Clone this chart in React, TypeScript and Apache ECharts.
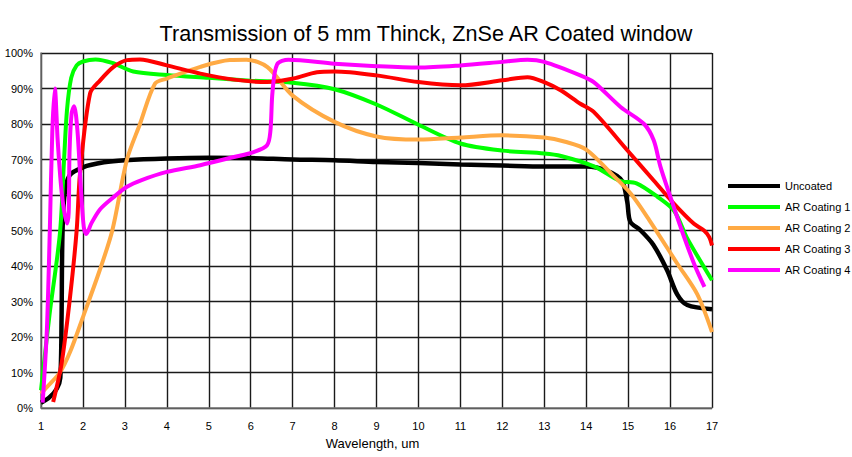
import React, { useEffect, useRef } from "react";
import * as echarts from "echarts";

// Wavelength (um) / transmission (%) pairs for each curve
const uncoated: [number, number][] = [
  [1.0, 1.5], [1.2, 3], [1.38, 5.5], [1.46, 8.5], [1.49, 25], [1.51, 48], [1.56, 60], [1.68, 65.5],
  [2, 67.8], [2.5, 69.2], [3, 69.8], [4, 70.3], [5, 70.5], [6, 70.4], [7, 70], [8, 69.8],
  [9, 69.3], [10, 69], [11, 68.6], [12, 68.3], [13, 68], [14, 68], [14.5, 66.8], [14.85, 64],
  [14.98, 58], [15.05, 52.5], [15.3, 50], [15.6, 46], [15.93, 38.8], [16.17, 32], [16.41, 29],
  [17, 27.8],
];
const arCoating1: [number, number][] = [
  [1.0, 5], [1.2, 26], [1.45, 49], [1.55, 70], [1.62, 84], [1.72, 93], [1.85, 96.5], [2, 97.6],
  [2.3, 98.2], [2.7, 97.2], [3.2, 94.8], [4, 93.8], [5, 93], [6, 92.2], [7, 91.6], [8, 89.8],
  [9, 85.5], [10, 79.8], [11, 74.5], [12, 72.5], [13, 71.7], [13.4, 71], [14.2, 68], [14.8, 64],
  [15.2, 63.3], [15.7, 59.5], [16.1, 55.5], [16.4, 48], [17, 36],
];
const arCoating2: [number, number][] = [
  [1.0, 4], [1.15, 6], [1.45, 10], [1.7, 16], [2, 25.6], [2.4, 38.8], [2.7, 50], [3.05, 70],
  [3.36, 80], [3.72, 91.4], [4, 92.8], [4.8, 96.1], [5.5, 98], [5.9, 98.1], [6.4, 96], [7, 88],
  [8, 80.6], [9, 76.5], [10, 75.6], [11, 76.2], [12, 76.8], [13, 76.2], [13.5, 75], [14, 72.8],
  [14.6, 66], [15.06, 60.4], [15.5, 53], [16.17, 40.7], [16.65, 32], [17, 21.4],
];
const arCoating3: [number, number][] = [
  [1.29, 1.7], [1.49, 12.5], [1.69, 31], [1.85, 50], [1.93, 66], [2.17, 88.6], [2.41, 92.3],
  [2.73, 96.1], [3.05, 98], [3.36, 98.2], [4, 96.5], [4.8, 94.2], [5.6, 92.5], [6.39, 91.8],
  [7.02, 92.8], [7.58, 94.6], [8, 94.8], [9, 93.7], [10, 91.8], [11, 90.9], [12, 92.3],
  [12.6, 93.2], [13, 91.8], [13.39, 89.5], [13.86, 85.7], [14.18, 83.4], [14.98, 72.6],
  [15.61, 64.1], [16.09, 57.6], [16.57, 51.9], [16.81, 50], [16.93, 48.2], [17, 45.8],
];
const arCoating4: [number, number][] = [
  [1.04, 1.5], [1.14, 22], [1.21, 50], [1.27, 78], [1.33, 90], [1.4, 75], [1.5, 60], [1.62, 52],
  [1.66, 55], [1.68, 72], [1.73, 83], [1.79, 85], [1.87, 78], [1.95, 62], [2.02, 51], [2.08, 49],
  [2.2, 52], [2.41, 56], [2.73, 59.4], [3.05, 62.3], [3.4, 64.2], [4, 66.5], [4.8, 68.4],
  [5.6, 70.7], [6.07, 72.1], [6.39, 74], [6.47, 78], [6.52, 89], [6.63, 96.8], [6.9, 98.1],
  [8, 97], [9, 96.3], [10, 95.9], [11, 96.5], [12, 97.5], [12.6, 98.1], [13, 97.5],
  [13.86, 93.7], [14.18, 91.8], [14.82, 84.8], [15.38, 80], [15.61, 75.4], [15.77, 68],
  [16.01, 59.4], [16.25, 51], [16.57, 40.7], [16.82, 34.1],
];

const seriesNames = ["Uncoated", "AR Coating 1", "AR Coating 2", "AR Coating 3", "AR Coating 4"];
const seriesData = [uncoated, arCoating1, arCoating2, arCoating3, arCoating4];
const seriesColors = ["#000000", "#00ff00", "#ffaa44", "#ff0000", "#ff00ff"];

const FONT = "'Liberation Sans', Arial, sans-serif";

export default function App() {
  const ref = useRef<HTMLDivElement>(null);

  useEffect(() => {
    if (!ref.current) return;
    const chart = echarts.init(ref.current, null, { renderer: "svg" });
    chart.setOption({
      animation: false,
      backgroundColor: "#ffffff",
      title: {
        text: "Transmission of 5 mm Thinck, ZnSe AR Coated window",
        left: 421,
        top: 17,
        textAlign: "center",
        textStyle: { fontFamily: FONT, fontSize: 21.6, fontWeight: "normal", color: "#000" },
      },
      legend: {
        orient: "vertical",
        left: 728,
        top: 179,
        padding: 0,
        itemWidth: 52,
        itemHeight: 4,
        itemGap: 7,
        icon: "rect",
        data: seriesNames,
        textStyle: {
          fontFamily: FONT,
          fontSize: 11,
          lineHeight: 14,
          color: "#000",
        },
      },
      grid: { left: 41, right: 140, top: 53, bottom: 49, containLabel: false },
      xAxis: {
        type: "value",
        min: 1,
        max: 17,
        interval: 1,
        name: "Wavelength, um",
        nameLocation: "middle",
        nameGap: 29,
        nameTextStyle: { fontFamily: FONT, fontSize: 13, color: "#000", padding: [0, 8, 0, 0] },
        axisLine: { show: true, lineStyle: { color: "#777", width: 1.5 } },
        axisTick: { show: false },
        axisLabel: { fontFamily: FONT, fontSize: 11, color: "#000", margin: 12 },
        splitLine: { show: true, lineStyle: { color: "#1a1a1a", width: 1.4 } },
      },
      yAxis: {
        type: "value",
        min: 0,
        max: 100,
        interval: 10,
        axisLine: { show: true, lineStyle: { color: "#777", width: 1.5 } },
        axisTick: { show: false },
        axisLabel: { fontFamily: FONT, fontSize: 11, color: "#000", margin: 8, formatter: "{value}%" },
        splitLine: { show: true, lineStyle: { color: "#1a1a1a", width: 1.4 } },
      },
      series: seriesNames.map((name, i) => ({
        name,
        type: "line",
        data: seriesData[i],
        smooth: 0.3,
        showSymbol: false,
        symbol: "none",
        color: seriesColors[i],
        lineStyle: { color: seriesColors[i], width: i === 0 ? 4.5 : 4 },
        z: 2 + i,
      })),
    });
    return () => chart.dispose();
  }, []);

  return <div ref={ref} style={{ width: 852, height: 457, position: "absolute", left: 0, top: 0 }} />;
}
